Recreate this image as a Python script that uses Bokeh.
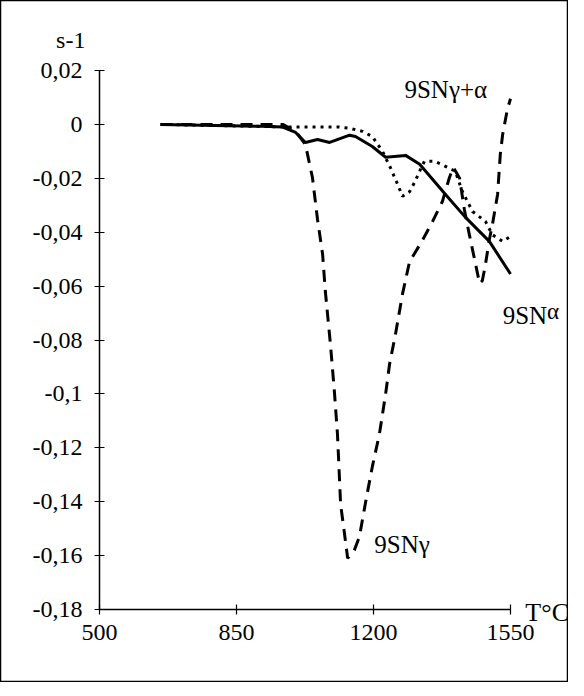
from bokeh.plotting import figure
from bokeh.models import Range1d, FixedTicker, Label
from bokeh.embed import file_html
from bokeh.resources import INLINE

# Data (temperature in °C, rate in s-1)
t_gamma = [656, 968, 1001, 1026, 1044, 1057, 1070, 1077, 1090, 1100, 1108, 1116, 1126, 1134,
           1151, 1164, 1180, 1197, 1215, 1231, 1241, 1256, 1274, 1292, 1325, 1351, 1376, 1394,
           1404, 1420, 1432, 1445, 1461, 1471, 1478, 1486, 1496, 1504, 1517, 1524, 1530, 1542, 1550]
v_gamma = [0.0, 0.0, -0.0026, -0.0074, -0.0197, -0.0353, -0.0482, -0.062, -0.0816, -0.099, -0.115,
           -0.141, -0.152, -0.161, -0.158, -0.153, -0.140, -0.127, -0.115, -0.100, -0.089, -0.078,
           -0.063, -0.051, -0.043, -0.036, -0.0286, -0.0197, -0.016, -0.020, -0.0315, -0.041,
           -0.052, -0.059, -0.058, -0.052, -0.0427, -0.037, -0.026, -0.011, -0.0037, 0.0056, 0.0095]

t_alpha = [656, 916, 968, 1001, 1026, 1057, 1088, 1139, 1154, 1197, 1231, 1282, 1318, 1384,
           1435, 1496, 1550]
v_alpha = [0.0, -0.0007, -0.001, -0.003, -0.0067, -0.0056, -0.0067, -0.004, -0.0045, -0.0082,
           -0.0122, -0.0115, -0.0148, -0.026, -0.0345, -0.0434, -0.0555]

t_mix = [656, 993, 1113, 1141, 1172, 1197, 1223, 1243, 1261, 1274, 1292, 1305, 1320, 1330,
         1356, 1376, 1409, 1427, 1453, 1486, 1504, 1530, 1550]
v_mix = [0.0, -0.001, -0.001, -0.0015, -0.0026, -0.0045, -0.010, -0.016, -0.022, -0.0267,
         -0.025, -0.0215, -0.0167, -0.0137, -0.0137, -0.015, -0.0174, -0.0249, -0.0323, -0.036,
         -0.041, -0.0434, -0.0416]

x_ticks = [500, 850, 1200, 1550]
y_ticks = [0.02, 0.0, -0.02, -0.04, -0.06, -0.08, -0.1, -0.12, -0.14, -0.16, -0.18]
y_tick_labels = ["0,02", "0", "-0,02", "-0,04", "-0,06", "-0,08", "-0,1", "-0,12", "-0,14",
                 "-0,16", "-0,18"]

FONT = "Liberation Serif"
W, H = 568, 682
# axis extents in canvas pixels
AX_L, AX_R, AX_T, AX_B = 99, 510, 70, 609
xs = (1550 - 500) / (AX_R - AX_L)
ys = (0.02 - (-0.18)) / (AX_B - AX_T)
x_range = Range1d(500 - AX_L * xs, 1550 + (W - AX_R) * xs)
y_range = Range1d(-0.18 - (H - AX_B) * ys, 0.02 + AX_T * ys)

p = figure(width=W, height=H, output_backend="svg", toolbar_location=None,
           x_range=x_range, y_range=y_range,
           min_border=0, min_border_left=0, min_border_right=0,
           min_border_top=0, min_border_bottom=0)
p.title.visible = False
p.outline_line_color = "black"
p.outline_line_width = 1.5
p.xgrid.grid_line_color = None
p.ygrid.grid_line_color = None
p.background_fill_color = "white"
p.border_fill_color = "white"

for ax in (p.xaxis[0], p.yaxis[0]):
    ax.axis_line_width = 1.5
    ax.axis_line_color = "black"
    ax.major_tick_in = 5
    ax.major_tick_out = 5
    ax.major_tick_line_width = 1.2
    ax.minor_tick_line_color = None
    ax.major_label_text_font = FONT
    ax.major_label_text_font_size = "24px"
    ax.major_label_text_color = "black"

p.xaxis[0].ticker = FixedTicker(ticks=x_ticks)
p.xaxis[0].bounds = (500, 1550)
p.xaxis[0].fixed_location = -0.18
p.xaxis[0].major_label_standoff = 10
p.yaxis[0].ticker = FixedTicker(ticks=y_ticks)
p.yaxis[0].bounds = (-0.18, 0.02)
p.yaxis[0].fixed_location = 500
p.yaxis[0].major_label_overrides = {t: l for t, l in zip(y_ticks, y_tick_labels)}
p.yaxis[0].major_label_standoff = 12

p.line(t_alpha, v_alpha, line_color="black", line_width=3)
p.line(t_mix, v_mix, line_color="black", line_width=3, line_dash="3 5")
p.line(t_gamma, v_gamma, line_color="black", line_width=3, line_dash="12 8")

def lab(x, y, text, align="left", size="25px"):
    p.add_layout(Label(x=x, y=y, text=text, text_font=FONT, text_font_size=size,
                       text_align=align, text_baseline="middle", text_color="black"))

lab(464, 0.0315, "s-1", align="right", size="24px")
lab(1588, -0.1811, "T°C", size="26px")
lab(1279, 0.0129, "9SNγ+α")
lab(1202, -0.1559, "9SNγ")
lab(1530, -0.0709, "9SN")
lab(1643, -0.0695, "α", size="23px")

open("out.html", "w").write(file_html(p, INLINE))
